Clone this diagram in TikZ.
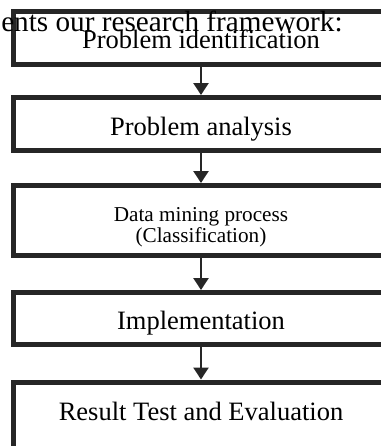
\documentclass[tikz,border=0pt]{standalone}
\usepackage{fontspec}
\setmainfont{Liberation Serif}
\usetikzlibrary{arrows.meta}

\begin{document}
\begin{tikzpicture}[x=0.5pt, y=-0.5pt,
    stage/.style={draw=black!85, line width=2.5pt, minimum width=187.5pt, inner sep=0pt,
      align=center, font=\fontsize{13.25}{15}\selectfont, text height=12pt, text depth=1pt},
    flow/.style={->, >={Triangle[length=6pt,width=7.5pt]}, line width=1.2pt, draw=black!85}]
  \useasboundingbox (0,0) rectangle (381,446);
  \clip (0,0) rectangle (381,446);

  % the steps
  \node[stage, minimum height=26.5pt] (ident) at (201,37.5) {Problem identification};
  \node[stage, minimum height=26.5pt] (analysis) at (201,124) {Problem analysis};
  \node[stage, minimum height=35pt, font=\fontsize{10.6}{10.5}\selectfont,
        text height=22pt, text depth=0.5pt] (mining) at (201,220.5) {Data mining process\\(Classification)};
  \node[stage, minimum height=26pt] (impl) at (201,318.5) {Implementation};
  \node[stage, anchor=north, text height=19.25pt, text depth=25.75pt] (result) at (201,379.5) {Result Test and Evaluation};

  % sentence cut by the figure
  \node[anchor=base east, inner sep=0pt, font=\fontsize{14.6}{16}\selectfont] (intro) at (343,31) {ents our research framework:};

  \draw[flow] (ident) -- (analysis);
  \draw[flow] (analysis) -- (mining);
  \draw[flow] (mining) -- (impl);
  \draw[flow] (impl) -- (result);
\end{tikzpicture}
\end{document}
